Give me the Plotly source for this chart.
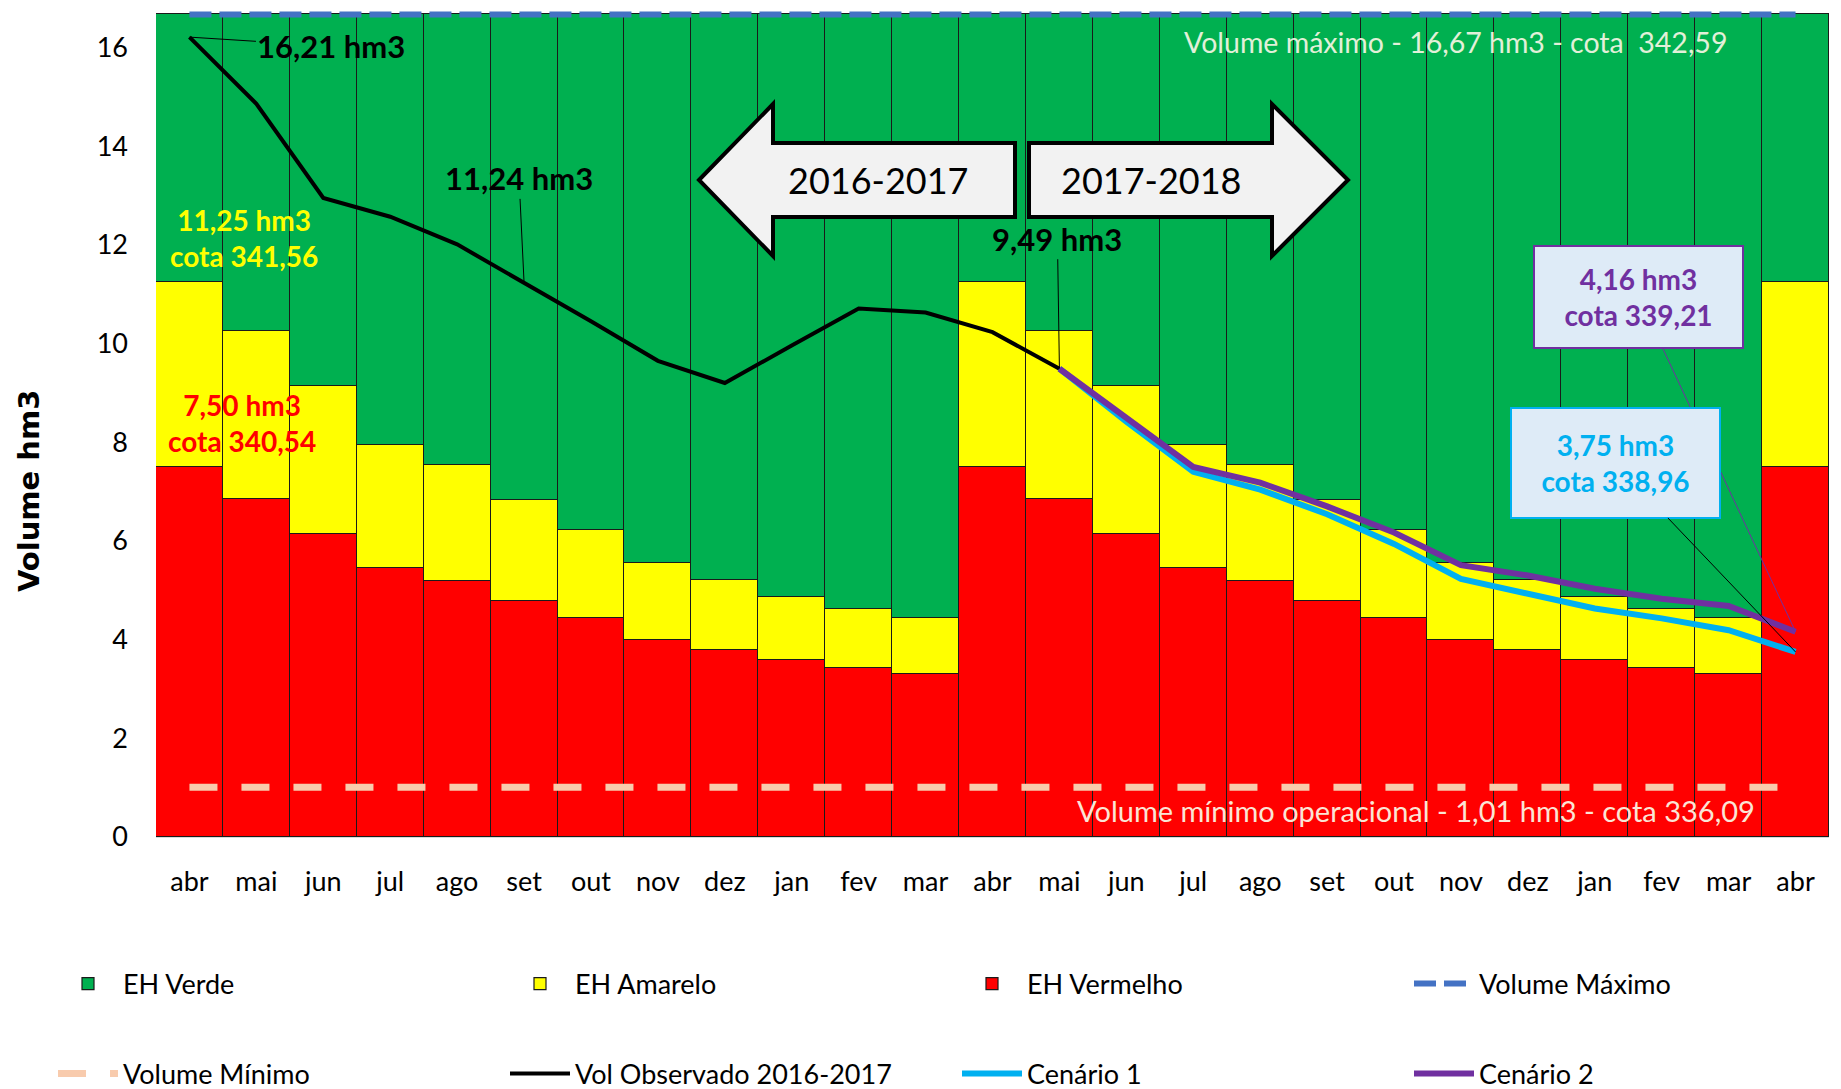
import plotly.graph_objects as go

# a pagina tem 8px de margem no body: figura um pouco menor e coordenadas de tela deslocadas
OFF = 8
W, H = 1841 - OFF, 1089 - OFF
L, R, T, B = 148, 12, 0, 252

MESES = ["abr", "mai", "jun", "jul", "ago", "set", "out", "nov", "dez", "jan", "fev", "mar",
         "abr", "mai", "jun", "jul", "ago", "set", "out", "nov", "dez", "jan", "fev", "mar", "abr"]

# topo das faixas de estado hidrologico (hm3), abr -> mar, repete-se todo ano
EH_VERMELHO_ANO = [7.50, 6.85, 6.15, 5.45, 5.18, 4.79, 4.43, 4.00, 3.78, 3.59, 3.42, 3.30]
EH_AMARELO_ANO = [11.25, 10.25, 9.13, 7.95, 7.53, 6.82, 6.22, 5.55, 5.20, 4.86, 4.63, 4.43]
VOL_MAX = 16.67
VOL_MIN = 1.01

# volume observado abr/2016 -> mai/2017
VOL_OBS = [16.21, 14.86, 12.95, 12.57, 12.01, 11.24, 10.45, 9.65, 9.20, 9.96, 10.71, 10.63, 10.23, 9.49]
# cenarios mai/2017 -> abr/2018
CENARIO_1 = [9.49, 8.42, 7.40, 7.04, 6.54, 5.94, 5.23, 4.93, 4.63, 4.43, 4.19, 3.75]
CENARIO_2 = [9.49, 8.50, 7.50, 7.18, 6.70, 6.17, 5.51, 5.30, 5.03, 4.83, 4.68, 4.16]

FONTE = "Lato, 'Open Sans', sans-serif"

x = list(range(len(MESES)))
vermelho = EH_VERMELHO_ANO * 2 + EH_VERMELHO_ANO[:1]
amarelo = EH_AMARELO_ANO * 2 + EH_AMARELO_ANO[:1]
x_obs = x[:len(VOL_OBS)]
x_cen = x[len(VOL_OBS) - 1:]


def pp(sx, sy):
    # pixel da tela -> coordenadas paper
    fx, fy = sx - OFF, sy - OFF
    return (fx - L) / (W - L - R), (H - B - fy) / (H - B - T)


def br(v):
    return f"{v:.2f}".replace(".", ",")


fig = go.Figure()
borda = dict(color="#1a1a1a", width=1.2)
fig.add_trace(go.Bar(x=x, y=vermelho, name="EH Vermelho", marker=dict(color="#FF0000", line=borda),
                     legendrank=3))
fig.add_trace(go.Bar(x=x, y=[a - v for a, v in zip(amarelo, vermelho)], name="EH Amarelo",
                     marker=dict(color="#FFFF00", line=borda), legendrank=2))
fig.add_trace(go.Bar(x=x, y=[VOL_MAX - a for a in amarelo], name="EH Verde",
                     marker=dict(color="#00B050", line=borda), legendrank=1))
fig.add_trace(go.Scatter(x=x, y=[VOL_MAX] * len(x), mode="lines", name="Volume Máximo",
                         line=dict(color="#4472C4", width=6, dash="22px,8px"), legendrank=4,
                         legendwidth=220))
fig.add_trace(go.Scatter(x=x, y=[VOL_MIN] * len(x), mode="lines", name="Volume Mínimo",
                         line=dict(color="#F8CBAD", width=7, dash="28px,24px"), legend="legend2",
                         legendrank=1))
fig.add_trace(go.Scatter(x=x_obs, y=VOL_OBS, mode="lines", name="Vol Observado 2016-2017",
                         line=dict(color="black", width=4), legend="legend2", legendrank=2))
fig.add_trace(go.Scatter(x=x_cen, y=CENARIO_1, mode="lines", name="Cenário 1",
                         line=dict(color="#00B0F0", width=6), legend="legend2", legendrank=3))
fig.add_trace(go.Scatter(x=x_cen, y=CENARIO_2, mode="lines", name="Cenário 2",
                         line=dict(color="#7030A0", width=6), legend="legend2", legendrank=4,
                         legendwidth=220))

anot = []
# rotulos com linha de chamada
for i, ax, ay in [(0, 142, 9), (5, -5, -104), (13, -2, -130)]:
    anot.append(dict(x=i, y=VOL_OBS[i], text=f"<b>{br(VOL_OBS[i])} hm3</b>", showarrow=True,
                     arrowhead=0, arrowwidth=1, arrowcolor="black", ax=ax, ay=ay,
                     font=dict(size=31, color="black")))
anot.append(dict(x=x_cen[-1], y=CENARIO_2[-1], text=f"<b>{br(CENARIO_2[-1])} hm3<br>cota 339,21</b>",
                 showarrow=True, arrowhead=0, arrowwidth=1, arrowcolor="#7030A0", ax=-157, ay=-335,
                 font=dict(size=28, color="#7030A0"), bgcolor="#DEEBF7", bordercolor="#7030A0",
                 borderwidth=2, width=205, height=98))
anot.append(dict(x=x_cen[-1], y=CENARIO_1[-1], text=f"<b>{br(CENARIO_1[-1])} hm3<br>cota 338,96</b>",
                 showarrow=True, arrowhead=0, arrowwidth=1, arrowcolor="black", ax=-180, ay=-189,
                 font=dict(size=28, color="#00B0F0"), bgcolor="#DEEBF7", bordercolor="#00B0F0",
                 borderwidth=2, width=205, height=106))

# textos livres
livres = [
    ("<b>11,25 hm3<br>cota 341,56</b>", 244, 238, 28, "#FFFF00"),
    ("<b>7,50 hm3<br>cota 340,54</b>", 242, 423, 28, "#FF0000"),
    ("Volume máximo - 16,67 hm3 - cota  342,59", 1455, 42, 28.5, "#E2F0D9"),
    ("Volume mínimo operacional - 1,01 hm3 - cota 336,09", 1416, 810, 29, "#FBE5D6"),
    ("2016-2017", 878, 180, 36, "black"),
    ("2017-2018", 1151, 180, 36, "black"),
]
for txt, sx, sy, sz, cor in livres:
    xp, yp = pp(sx, sy)
    anot.append(dict(x=xp, y=yp, xref="paper", yref="paper", text=txt, showarrow=False,
                     xanchor="center", yanchor="middle", font=dict(size=sz, color=cor)))

xp, yp = pp(29, 491)
anot.append(dict(x=xp, y=yp, xref="paper", yref="paper", text="<b>Volume hm3</b>", showarrow=False,
                 xanchor="center", yanchor="middle", textangle=-90,
                 font=dict(size=29, color="black", family="DejaVu Sans")))

# setas 2016-2017 / 2017-2018
def caminho(pts):
    s = ""
    for k, (sx, sy) in enumerate(pts):
        a, b = pp(sx, sy)
        s += ("M" if k == 0 else "L") + f"{a:.5f},{b:.5f} "
    return s + "Z"

seta_esq = [(699, 180), (773, 104), (773, 143), (1015, 143), (1015, 217), (773, 217), (773, 256)]
seta_dir = [(1029, 143), (1272, 143), (1272, 104), (1348, 180), (1272, 256), (1272, 217), (1029, 217)]
shapes = [dict(type="path", xref="paper", yref="paper", path=caminho(p), fillcolor="#F2F2F2",
               line=dict(color="black", width=4), layer="above") for p in (seta_esq, seta_dir)]

leg = dict(orientation="h", xanchor="left", yanchor="middle", traceorder="normal",
           xref="container", yref="container",
           font=dict(size=27, color="black", family=FONTE), itemwidth=60,
           entrywidth=377, entrywidthmode="pixels", bgcolor="rgba(0,0,0,0)")

fig.update_layout(
    width=W, height=H,
    margin=dict(l=L, r=R, t=T, b=B, autoexpand=False),
    barmode="stack", bargap=0,
    plot_bgcolor="white", paper_bgcolor="white",
    font=dict(family=FONTE, color="black"),
    annotations=anot, shapes=shapes,
    legend=dict(leg, x=(53 - OFF) / W, y=1 - (984 - OFF) / H),
    legend2=dict(leg, x=(53 - OFF) / W, y=1 - (1074 - OFF) / H),
    xaxis=dict(tickvals=x, ticktext=MESES, range=[-0.5, len(x) - 0.5], showgrid=False,
               ticks="", tickfont=dict(size=27, color="black"), ticklabelstandoff=21,
               showline=True, linecolor="#D9D9D9", linewidth=1, zeroline=False, automargin=False),
    yaxis=dict(range=[0, 16.80], tickvals=list(range(0, 17, 2)), showgrid=False, zeroline=False,
               ticks="", tickfont=dict(size=27, color="black"), ticklabelstandoff=27,
               automargin=False),
)

fig.write_html("out.html")
